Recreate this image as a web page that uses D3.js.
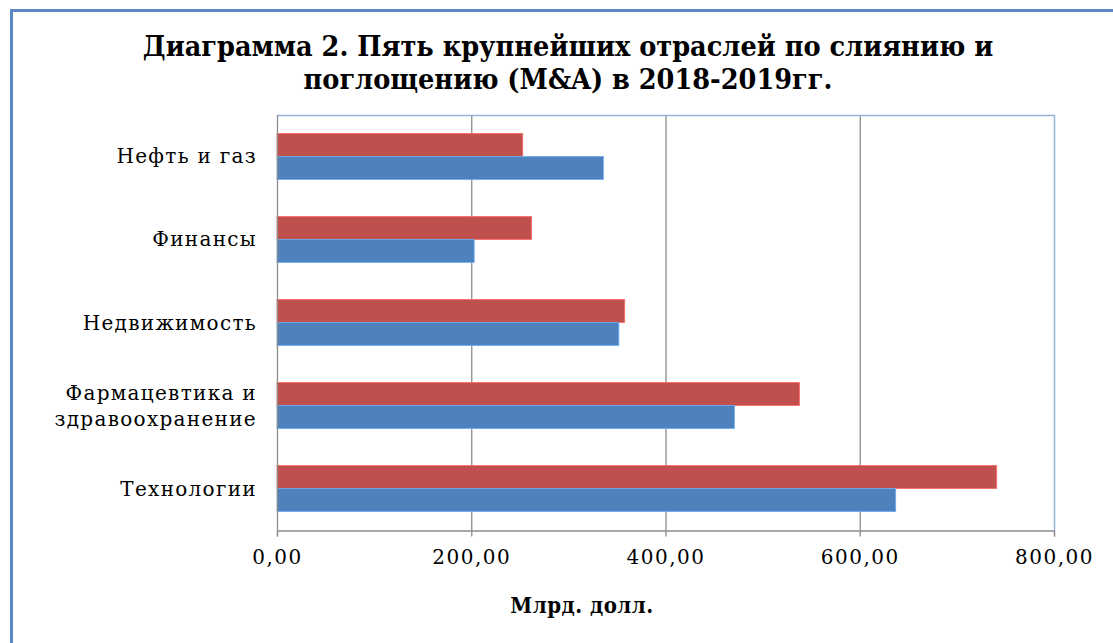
<!DOCTYPE html>
<html>
<head>
<meta charset="utf-8">
<script src="https://cdn.jsdelivr.net/npm/d3@7"></script>
<style>
  body { margin: 0; background: #fff; }
  svg text { font-family: "DejaVu Serif", serif; }
</style>
</head>
<body>
<svg></svg>
<script>
// categories top to bottom, as in the picture
const categories = ['Нефть и газ', 'Финансы', 'Недвижимость', 'Фармацевтика и\nздравоохранение', 'Технологии'];
const values2018 = [336, 203, 352, 471, 637];
const values2019 = [253, 262, 358, 538, 741];
const xTicks = [0, 200, 400, 600, 800];
const titleLines = ['Диаграмма 2. Пять крупнейших отраслей по слиянию и', 'поглощению (M&A) в 2018-2019гг.'];
const axisTitle = 'Млрд. долл.';

const width = 1113;
const height = 643;
const plot = { left: 277, right: 1054, top: 115, bottom: 530 };

const svg = d3.select('svg')
  .attr('width', width)
  .attr('height', height);

// outer frame
svg.append('path')
  .attr('d', `M11.5,${height + 5} V10.5 H${width + 5}`)
  .attr('fill', 'none')
  .attr('stroke', '#5b87c5')
  .attr('stroke-width', 3);

const xScale = d3.scaleLinear()
  .domain([0, 800])
  .range([plot.left, plot.right]);

const yBand = d3.scaleBand()
  .domain(categories)
  .range([plot.top, plot.bottom])
  .paddingInner(0.445)
  .paddingOuter(0.222);

const series = [
  { name: '2019', values: values2019, color: '#c0504d' },
  { name: '2018', values: values2018, color: '#4f81bd' }
];

const ySub = d3.scaleBand()
  .domain(series.map(s => s.name))
  .range([0, yBand.bandwidth()]);

// gridlines
svg.append('g')
  .selectAll('line')
  .data(xTicks.slice(1, -1))
  .enter()
  .append('line')
  .attr('x1', d => xScale(d) + 0.5)
  .attr('x2', d => xScale(d) + 0.5)
  .attr('y1', plot.top)
  .attr('y2', plot.bottom)
  .attr('stroke', '#8c8c8c')
  .attr('stroke-width', 1.3);

// plot area border top / right
svg.append('path')
  .attr('d', `M${plot.left},${plot.top + 0.5} H${plot.right + 0.5} V${plot.bottom}`)
  .attr('fill', 'none')
  .attr('stroke', '#95b3d7')
  .attr('stroke-width', 1.5);

// bars
series.forEach(s => {
  svg.append('g')
    .selectAll('rect')
    .data(categories)
    .enter()
    .append('rect')
    .attr('x', xScale(0))
    .attr('y', d => yBand(d) + ySub(s.name))
    .attr('width', (d, i) => xScale(s.values[i]) - xScale(0))
    .attr('height', ySub.bandwidth())
    .attr('fill', s.color)
    .attr('stroke', d3.color(s.color).brighter(0.8))
    .attr('stroke-width', 0.8);
});

// x axis
const xAxis = d3.axisBottom(xScale)
  .tickValues(xTicks)
  .tickSize(6)
  .tickPadding(13)
  .tickFormat(d => d3.format('.2f')(d).replace('.', ','));

const gx = svg.append('g')
  .attr('transform', `translate(0, ${plot.bottom + 0.5})`)
  .call(xAxis);
gx.select('.domain').attr('stroke', '#8c8c8c').attr('stroke-width', 1.3);
gx.selectAll('.tick line').attr('stroke', '#8c8c8c').attr('stroke-width', 1.3);
gx.selectAll('.tick text')
  .attr('fill', '#000')
  .style('font-family', '"DejaVu Serif", serif')
  .style('font-size', '20px')
  .style('letter-spacing', '1.5px');

// y axis line
svg.append('line')
  .attr('x1', plot.left + 0.5)
  .attr('x2', plot.left + 0.5)
  .attr('y1', plot.top)
  .attr('y2', plot.bottom)
  .attr('stroke', '#8c8c8c')
  .attr('stroke-width', 1.3);

// category labels
const labels = svg.append('g')
  .selectAll('text')
  .data(categories)
  .enter()
  .append('text')
  .attr('x', 257)
  .attr('y', d => yBand(d) + yBand.bandwidth() / 2)
  .attr('text-anchor', 'end')
  .style('font-size', '20px')
  .style('letter-spacing', '1.3px')
  .attr('fill', '#000');

labels.each(function (d) {
  const lines = d.split('\n');
  const t = d3.select(this);
  lines.forEach((line, i) => {
    t.append('tspan')
      .attr('x', 257)
      .attr('dy', i === 0 ? (7 - (lines.length - 1) * 13) : 26)
      .text(line);
  });
});

// title
svg.append('g')
  .selectAll('text')
  .data(titleLines)
  .enter()
  .append('text')
  .attr('x', 568)
  .attr('y', (d, i) => 56 + i * 33)
  .attr('text-anchor', 'middle')
  .style('font-family', '"DejaVu Serif Condensed", "DejaVu Serif", serif')
  .style('font-weight', 'bold')
  .style('font-size', '28.5px')
  .text(d => d);

// axis title
svg.append('text')
  .attr('x', 582)
  .attr('y', 613)
  .attr('text-anchor', 'middle')
  .style('font-family', '"DejaVu Serif Condensed", "DejaVu Serif", serif')
  .style('font-weight', 'bold')
  .style('font-size', '22px')
  .style('letter-spacing', '0.5px')
  .text(axisTitle);
</script>
</body>
</html>
